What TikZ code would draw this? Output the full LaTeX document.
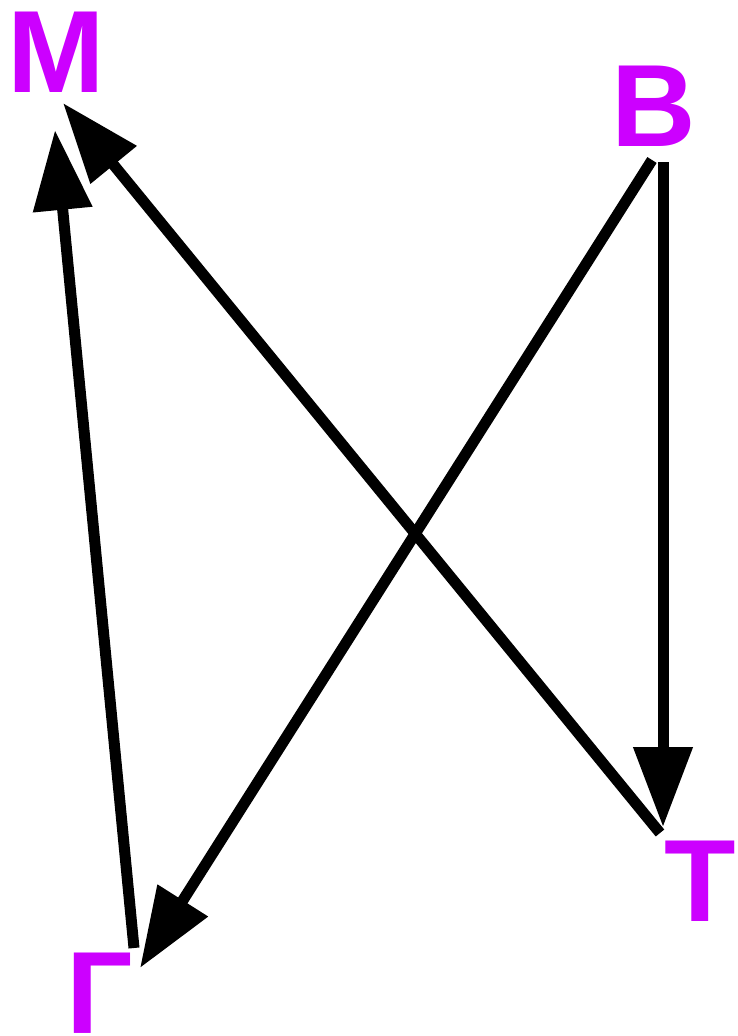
\documentclass[tikz,border=0pt]{standalone}
\usepackage{fontspec}
\setmainfont{Liberation Sans}
\usetikzlibrary{arrows.meta}
\definecolor{lblcol}{HTML}{CC00FF}
\begin{document}
\begin{tikzpicture}[x=1pt,y=-1pt,
  lbl/.style={inner sep=0pt,anchor=base,text=lblcol,font=\fontsize{117}{120}\selectfont\bfseries},
  conn/.style={line width=11pt,line cap=butt,-{Triangle[length=80pt,width=57pt]}}]
\useasboundingbox (0,0) rectangle (738,1036);
\node[lbl] (M) at (56.5,92) {M};
\node[lbl] (B) at (654,146) {B};
\node[lbl] (T) at (700,921) {T};
\node[lbl] (G) at (99.5,1033) {Г};
% connector ends near labels
\coordinate (Mt1) at (55,130);
\coordinate (Mt2) at (63,103);
\coordinate (Bs1) at (663,162);
\coordinate (Bs2) at (652,160);
\coordinate (Tt) at (663,827);
\coordinate (Ts) at (660,833);
\coordinate (Gt) at (140,968);
\coordinate (Gs) at (134,948);
\draw[conn] (Bs1) -- (Tt);
\draw[conn] (Bs2) -- (Gt);
\draw[conn] (Ts) -- (Mt2);
\draw[conn] (Gs) -- (Mt1);
\end{tikzpicture}
\end{document}
